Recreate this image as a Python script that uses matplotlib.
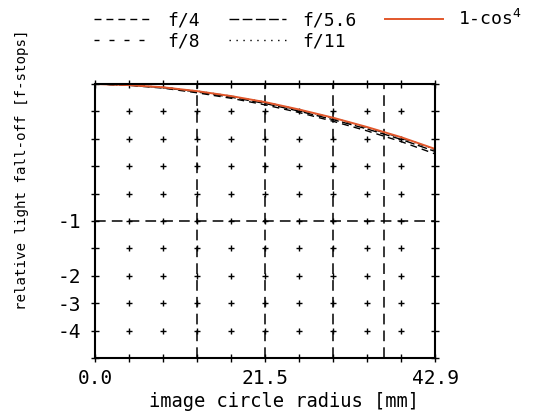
import matplotlib
matplotlib.use("Agg")
import matplotlib.pyplot as plt
import numpy as np

# ---- data ----
radius_mm = [0, 4.29, 8.58, 12.87, 17.16, 21.45, 25.74, 30.03, 34.32, 38.61, 42.9]
f4 = [1.0, 0.995, 0.985, 0.968, 0.948, 0.924, 0.896, 0.864, 0.829, 0.790, 0.745]
f56 = [1.0, 0.996, 0.987, 0.971, 0.952, 0.929, 0.901, 0.870, 0.836, 0.798, 0.754]
f8 = [1.0, 0.996, 0.988, 0.973, 0.955, 0.933, 0.905, 0.875, 0.841, 0.804, 0.761]
f11 = [1.0, 0.996, 0.988, 0.974, 0.956, 0.934, 0.906, 0.876, 0.842, 0.805, 0.762]
cos4 = [1.0, 0.996, 0.988, 0.974, 0.956, 0.934, 0.907, 0.877, 0.843, 0.806, 0.763]

x_ticks = [0.0, 21.45, 42.9]
x_ticklabels = ["0.0", "21.5", "42.9"]
y_ticks = [0.5, 0.3, 0.2, 0.1]
y_ticklabels = ["-1", "-2", "-3", "-4"]
x_grid = [4.29 * k for k in range(11)]
y_grid = [0.1 * k for k in range(11)]
x_dashed = [12.87, 21.45, 30.03, 36.5]
y_dashed = [0.5]

plt.rcParams['font.family'] = ['DejaVu Sans Mono', 'DejaVu Sans']
plt.rcParams['mathtext.fontset'] = 'dejavusans'

fig = plt.figure(figsize=(5.36, 4.15), dpi=100)
ax = fig.add_axes([95/536, 1 - 358/415, 340/536, 274/415])

red = "#E2572B"

l1, = ax.plot(radius_mm, f4, color="black", lw=1.0, dashes=(5, 3.6))
l3, = ax.plot(radius_mm, f56, color="black", lw=1.0, dashes=(7, 2.5))
l2, = ax.plot(radius_mm, f8, color="black", lw=1.0, dashes=(3.6, 7.2))
l4, = ax.plot(radius_mm, f11, color="black", lw=1.0, dashes=(1, 4))
l5, = ax.plot(radius_mm, cos4, color=red, lw=1.4)

# dashed reference lines
for xv in x_dashed:
    ax.axvline(xv, color="black", lw=1.1, dashes=(7, 4), zorder=1)
for yv in y_dashed:
    ax.axhline(yv, color="black", lw=1.1, dashes=(7, 4), zorder=1)

# grid crosses
gx, gy = np.meshgrid(x_grid[1:-1], y_grid[1:-1])
ax.plot(gx.ravel(), gy.ravel(), linestyle="none", marker="+", color="black",
        markersize=5, markeredgewidth=1.0, zorder=1)

ax.set_xlim(0, 42.9)
ax.set_ylim(0, 1.0)

# border ticks as crosses
ax.set_xticks(x_grid, minor=True)
ax.set_yticks(y_grid, minor=True)
ax.tick_params(which="minor", direction="inout", length=6, width=1.0,
               top=True, right=True, bottom=True, left=True)
ax.tick_params(which="major", direction="inout", length=6, width=1.0,
               top=True, right=True, labelsize=14)
ax.tick_params(axis="x", which="major", pad=5)
ax.tick_params(axis="y", which="major", pad=7)
ax.set_xticks(x_ticks)
ax.set_xticklabels(x_ticklabels)
ax.set_yticks(y_ticks)
ax.set_yticklabels(y_ticklabels)

for s in ax.spines.values():
    s.set_linewidth(1.5)

ax.set_xlabel("image circle radius [mm]", fontsize=13.5)
ax.xaxis.set_label_coords(0.556, -0.125)
ax.set_ylabel("relative light fall-off [f-stops]", fontsize=10.2)
ax.yaxis.set_label_coords(-0.215, 0.686)
ax.yaxis.label.set_verticalalignment("center")

leg = fig.legend([l1, l2, l3, l4, l5],
                 ["f/4", "f/8", "f/5.6", "f/11", r"1-cos$^4$"],
                 ncol=3, loc="upper left", bbox_to_anchor=(94/536, 1 - 9/415),
                 frameon=False, fontsize=13, handlelength=3.2,
                 handletextpad=0.85, columnspacing=1.6, labelspacing=0.2,
                 borderaxespad=0, borderpad=0)

fig.savefig("out.png", dpi=100)
